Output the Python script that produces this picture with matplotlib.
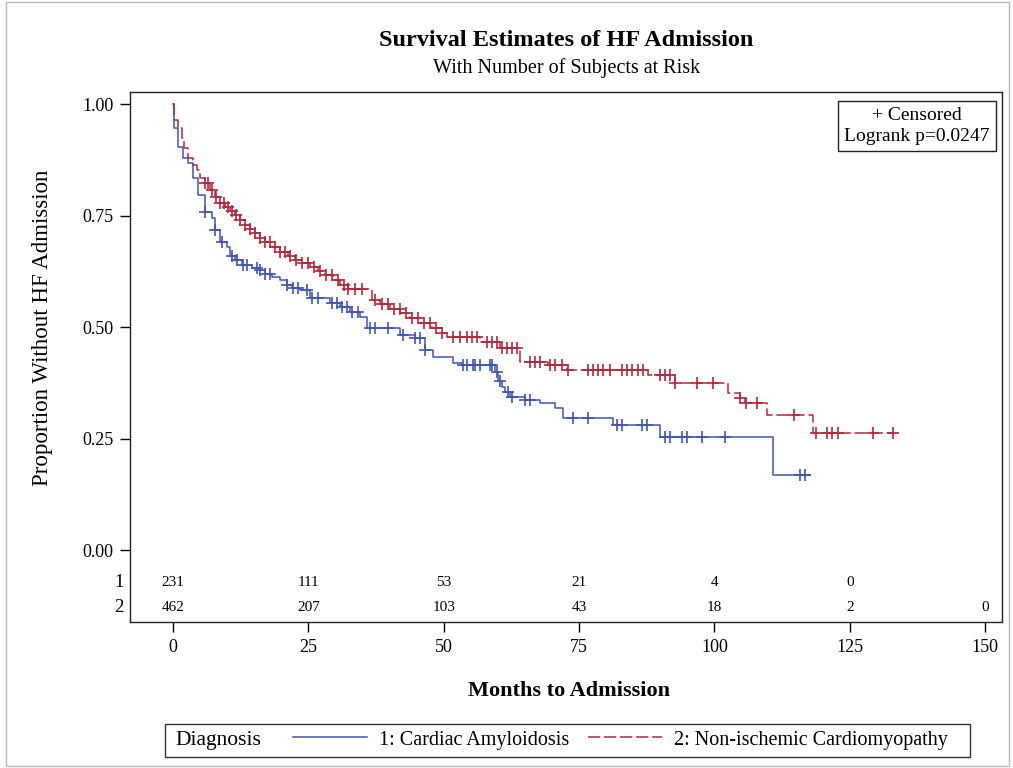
import numpy as np
import matplotlib
matplotlib.use("Agg")
import matplotlib.pyplot as plt
from matplotlib.patches import Rectangle
from matplotlib.lines import Line2D

plt.rcParams['font.family'] = ['Liberation Serif', 'DejaVu Serif']

# group 1: cardiac amyloidosis, step times (months) and survival after each step
blue_t = [0.1, 0.9, 1.8, 2.8, 3.7, 4.6, 5.9, 7.2, 7.8, 8.7, 10.0, 10.5, 11.5, 12.7,
          14.6, 16.1, 17.0, 18.3, 19.8, 21.1, 22.0, 23.5, 25.3, 29.0, 30.9, 32.7,
          34.5, 35.8, 41.9, 44.7, 46.6, 48.0, 51.7, 53.4, 59.5, 60.0, 60.8, 61.3,
          62.3, 65.0, 67.8, 70.6, 72.0, 81.3, 90.0, 110.8]
blue_s = [0.946, 0.904, 0.879, 0.868, 0.834, 0.796, 0.758, 0.744, 0.717, 0.69, 0.68,
          0.66, 0.65, 0.64, 0.632, 0.628, 0.62, 0.612, 0.605, 0.594, 0.587, 0.583,
          0.565, 0.554, 0.545, 0.535, 0.522, 0.498, 0.482, 0.475, 0.448, 0.433,
          0.419, 0.415, 0.40, 0.38, 0.365, 0.355, 0.343, 0.336, 0.33, 0.318, 0.296,
          0.28, 0.253, 0.168]
blue_end = 117.7
blue_cens = [5.9, 7.8, 9.1, 10.9, 11.8, 12.9, 13.7, 15.5, 16.1, 17.0, 17.9, 21.1, 22.2,
             23.1, 24.8, 25.7, 26.8, 29.4, 30.3, 31.2, 32.1, 33.1, 34.2, 36.4, 37.3,
             39.7, 42.5, 44.7, 45.6, 46.6, 53.6, 54.3, 55.4, 55.8, 56.7, 58.6, 58.9,
             59.9, 60.4, 61.9, 62.6, 65.0, 66.0, 73.9, 76.7, 82.0, 82.9, 86.6, 87.6,
             90.9, 91.8, 94.0, 94.9, 97.7, 102.0, 115.8, 116.7]

# group 2: non-ischemic cardiomyopathy
red_t = [0.2, 0.9, 1.7, 2.0, 2.8, 3.7, 4.4, 5.0, 5.9, 6.8, 7.8, 8.7, 9.6, 10.5, 11.5,
         12.4, 13.3, 14.2, 15.1, 16.1, 17.0, 18.3, 19.8, 21.2, 22.5, 23.8, 25.3, 26.8,
         28.1, 29.6, 30.9, 32.3, 36.8, 38.2, 40.1, 42.0, 43.8, 45.6, 47.8, 49.7, 50.6,
         56.7, 60.4, 64.1, 69.3, 72.8, 87.8, 92.7, 102.5, 104.7, 105.7, 109.7, 118.2]
red_s = [0.964, 0.946, 0.924, 0.901, 0.879, 0.863, 0.852, 0.834, 0.823, 0.807, 0.791,
         0.778, 0.769, 0.76, 0.751, 0.74, 0.729, 0.72, 0.711, 0.70, 0.69, 0.679, 0.668,
         0.659, 0.65, 0.643, 0.635, 0.626, 0.617, 0.605, 0.594, 0.585, 0.561, 0.552,
         0.54, 0.531, 0.52, 0.509, 0.498, 0.487, 0.478, 0.466, 0.453, 0.422, 0.415,
         0.404, 0.392, 0.374, 0.352, 0.341, 0.33, 0.303, 0.262]
red_end = 133.0
red_cens = [5.9, 6.5, 7.2, 7.9, 8.7, 9.4, 10.2, 10.9, 11.6, 12.4, 13.3, 14.2, 15.1, 16.1,
            17.0, 17.9, 18.8, 19.8, 20.7, 21.6, 22.7, 23.8, 24.9, 26.0, 27.2, 28.3,
            29.4, 30.5, 31.6, 32.3, 33.6, 34.9, 37.3, 38.6, 39.7, 40.8, 41.9, 43.0,
            44.2, 45.3, 46.4, 47.5, 48.6, 49.7, 51.7, 53.0, 54.3, 55.2, 56.2, 58.0,
            58.9, 59.9, 60.8, 61.7, 62.6, 63.6, 66.0, 66.9, 67.8, 69.6, 70.6, 71.9,
            73.0, 76.7, 77.6, 78.5, 79.4, 80.7, 82.9, 83.9, 84.8, 85.9, 86.8, 90.0,
            90.9, 91.8, 92.7, 96.8, 99.8, 104.7, 105.9, 107.9, 114.7, 118.8, 120.8,
            121.7, 122.8, 129.3, 133.0]

risk_times = [0, 25, 50, 75, 100, 125, 150]
risk_1 = [231, 111, 53, 21, 4, 0]
risk_2 = [462, 207, 103, 43, 18, 2, 0]

blue = '#3F54B4'
red = '#B3283A'

fig = plt.figure(figsize=(10.13, 7.68), dpi=100)
ax = fig.add_axes([0.1283, 0.1901, 0.8608, 0.6901])

def km(ax, times, surv, end, cens, color, **kw):
    t = np.r_[0, times, end]
    s = np.r_[1.0, surv, surv[-1]]
    ax.step(t, s, where='post', color=color, lw=1.1, **kw)
    idx = np.searchsorted(t, cens, side='right') - 1
    ax.plot(cens, s[idx], ls='none', marker='+', ms=8, mew=1.2, color=color)

km(ax, blue_t, blue_s, blue_end, blue_cens, blue)
km(ax, red_t, red_s, red_end, red_cens, red, dashes=(8, 2.5))

ax.set_xlim(-7.94, 153.1)
ax.set_ylim(-0.161, 1.027)
ax.set_xticks(risk_times)
ax.set_yticks([0, 0.25, 0.5, 0.75, 1.0])
ax.set_yticklabels(['0.00', '0.25', '0.50', '0.75', '1.00'])
ax.tick_params(labelsize=13, length=7, width=1, direction='out', pad=5)
for sp in ax.spines.values():
    sp.set_linewidth(1.0)
    sp.set_color('#222222')

ax.set_xlabel('Months to Admission', fontsize=16, fontweight='bold')
ax.xaxis.set_label_coords(0.503, -0.111)
ax.set_ylabel('Proportion Without HF Admission', fontsize=16.5)
ax.yaxis.set_label_coords(-0.088, 0.555)

# numbers at risk
for x, n in zip(risk_times, risk_1):
    ax.text(x, -0.072, str(n), ha='center', va='center', fontsize=11)
for x, n in zip(risk_times, risk_2):
    ax.text(x, -0.128, str(n), ha='center', va='center', fontsize=11)
ax.text(-0.007, -0.072, '1', transform=ax.get_yaxis_transform(), ha='right', va='center', fontsize=13.5)
ax.text(-0.007, -0.128, '2', transform=ax.get_yaxis_transform(), ha='right', va='center', fontsize=13.5)

ax.text(0.986, 0.972, '+ Censored\nLogrank p=0.0247', transform=ax.transAxes,
        ha='right', va='top', ma='center', fontsize=14, linespacing=1.3,
        bbox=dict(boxstyle='square,pad=0.3', fc='white', ec='#222222', lw=1.0))

fig.text(0.559, 0.947, 'Survival Estimates of HF Admission', ha='center', va='center',
         fontsize=17.5, fontweight='bold')
fig.text(0.559, 0.9115, 'With Number of Subjects at Risk', ha='center', va='center', fontsize=14.5)

# bottom legend
fig.patches.append(Rectangle((0.1629, 0.0143), 0.7947, 0.043, transform=fig.transFigure,
                             fill=False, ec='#333333', lw=1.0))
fig.text(0.1728, 0.0355, 'Diagnosis', ha='left', va='center', fontsize=15.5)
handles = [Line2D([], [], color=blue, lw=1.1),
           Line2D([], [], color=red, lw=1.1, dashes=(8, 2.5))]
fig.legend(handles, ['1: Cardiac Amyloidosis', '2: Non-ischemic Cardiomyopathy'],
           loc='center left', bbox_to_anchor=(0.289, 0.0365), ncol=2, frameon=False,
           fontsize=14.5, handlelength=3.7, handletextpad=0.6, columnspacing=0.9,
           borderaxespad=0, borderpad=0)

fig.patches.append(Rectangle((0.006, 0.003), 0.99, 0.994, transform=fig.transFigure,
                             fill=False, ec='#bbbbbb', lw=1.0))

fig.savefig('out.png', dpi=100)
